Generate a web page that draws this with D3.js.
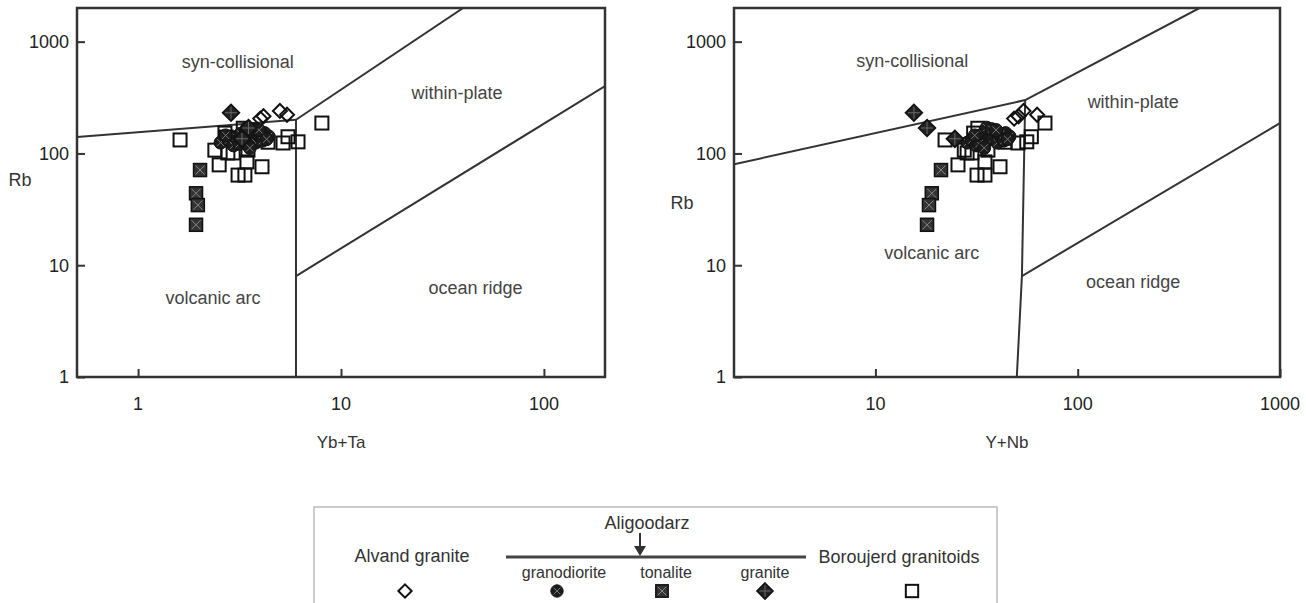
<!DOCTYPE html>
<html>
<head>
<meta charset="utf-8">
<script src="https://cdn.jsdelivr.net/npm/d3@7"></script>
<style>
  body { margin: 0; background: #fff; }
  svg { display: block; font-family: "Liberation Sans", Arial, sans-serif; }
</style>
</head>
<body>
<svg id="chart" width="1306" height="603"></svg>
<script>
// Each sample: [Yb+Ta, Y+Nb, Rb] (ppm)
const alvand = [
    [4.0, 48.5, 205], [4.15, 51, 215], [5.0, 54, 240], [5.42, 63, 222]
];
const granodiorite = [
    [2.55, 28.5, 125], [2.8, 30, 132], [2.95, 31.5, 118], [3.05, 33, 140],
    [3.2, 34, 150], [3.3, 35, 128], [3.4, 36, 160], [3.5, 37, 145],
    [3.6, 38, 135], [3.7, 39, 155], [3.8, 40, 125], [3.9, 41, 148],
    [4.05, 42, 138], [4.2, 44, 152], [4.4, 46, 142], [3.45, 35.5, 170],
    [3.75, 37.5, 165], [3.15, 32.5, 122], [4.1, 43, 130], [3.55, 34.5, 112],
    [2.7, 31, 145], [3.95, 39.5, 162], [4.3, 45, 134]
];
const tonalite = [
    [2.02, 21.1, 71], [1.93, 19.0, 44], [1.97, 18.4, 34.5], [1.93, 18.0, 23]
];
const granite = [
    [2.87, 15.5, 231], [3.5, 18.0, 169], [3.25, 24.7, 135]
];
const boroujerd = [
    [1.61, 22.1, 132], [2.68, 30.6, 152], [2.39, 27.5, 107], [2.51, 25.6, 79],
    [2.77, 28.4, 101], [3.11, 31.8, 64], [3.36, 34.8, 64], [3.44, 34.8, 84],
    [3.48, 36, 107], [4.08, 41.3, 76], [4.37, 43.7, 126], [5.18, 50.7, 124],
    [5.48, 59, 141], [6.14, 56, 127], [8.05, 68.9, 187], [2.72, 33, 140],
    [3.3, 32.1, 168], [2.94, 30, 101]
];

const yTicks = [1, 10, 100, 1000];
const xTicksYbTa = [1, 10, 100];
const xTicksYNb = [10, 100, 1000];

// field boundaries, [x, Rb]
const boundsYbTa = [
    [[0.5, 140], [6, 200]],
    [[6, 200], [40, 2000]],
    [[6, 1], [6, 200]],
    [[6, 8], [200, 400]]
];
const boundsYNb = [
    [[2, 80], [55, 300]],
    [[55, 300], [400, 2000]],
    [[55, 300], [53, 8], [50, 1]],
    [[53, 8], [1000, 187]]
];

const fieldsYbTa = [
    { name: 'syn-collisional', x: 3.1, y: 660 },
    { name: 'within-plate', x: 37.3, y: 347 },
    { name: 'volcanic arc', x: 2.34, y: 5.1 },
    { name: 'ocean ridge', x: 46, y: 6.3 }
];
const fieldsYNb = [
    { name: 'syn-collisional', x: 15.2, y: 670 },
    { name: 'within-plate', x: 188, y: 288 },
    { name: 'volcanic arc', x: 19, y: 12.9 },
    { name: 'ocean ridge', x: 188, y: 7.1 }
];

const svg = d3.select('#chart');
const INK = '#333';

// Marker drawing
function drawSymbol(g, type, s = 1) {
    if (type === 'alvand') {
        const r = 7 * s;
        g.append('path')
            .attr('d', `M0,${-r}L${r},0L0,${r}L${-r},0Z`)
            .attr('fill', 'none').attr('stroke', '#111').attr('stroke-width', 2);
    } else if (type === 'grd') {
        const r = 6.5 * s, c = 3.6 * s;
        g.append('circle').attr('r', r).attr('fill', '#1c1c1c').attr('stroke', '#111');
        g.append('path').attr('d', `M${-c},${-c}L${c},${c}M${c},${-c}L${-c},${c}`)
            .attr('stroke', '#777').attr('stroke-width', 1);
    } else if (type === 'ton') {
        const h = 6.5 * s, c = 4.5 * s;
        g.append('rect').attr('x', -h).attr('y', -h).attr('width', 2 * h).attr('height', 2 * h)
            .attr('fill', '#333').attr('stroke', '#111').attr('stroke-width', 1.5);
        g.append('path').attr('d', `M${-c},${-c}L${c},${c}M${c},${-c}L${-c},${c}`)
            .attr('stroke', '#888').attr('stroke-width', 1);
    } else if (type === 'gra') {
        const r = 8.5 * s, c = 4.2 * s;
        g.append('path').attr('d', `M0,${-r}L${r},0L0,${r}L${-r},0Z`)
            .attr('fill', '#222').attr('stroke', '#111').attr('stroke-width', 1.5);
        g.append('path').attr('d', `M${-c},${-c}L${c},${c}M${c},${-c}L${-c},${c}`)
            .attr('stroke', '#6a6a6a').attr('stroke-width', 1)
            .attr('transform', 'rotate(45)');
    } else if (type === 'bor') {
        const h = 6.5 * s;
        g.append('rect').attr('x', -h).attr('y', -h).attr('width', 2 * h).attr('height', 2 * h)
            .attr('fill', 'none').attr('stroke', '#111').attr('stroke-width', 2);
    }
}

const groups = [
    { type: 'bor', data: boroujerd },
    { type: 'alvand', data: alvand },
    { type: 'grd', data: granodiorite },
    { type: 'ton', data: tonalite },
    { type: 'gra', data: granite }
];

const panels = [
    { id: 'ybta', col: 0, xDomain: [0.5, 200], xRange: [77, 605], xTicks: xTicksYbTa,
      xTitle: 'Yb+Ta', bounds: boundsYbTa, fields: fieldsYbTa, rb: [20, 180] },
    { id: 'ynb', col: 1, xDomain: [2, 1000], xRange: [734, 1280], xTicks: xTicksYNb,
      xTitle: 'Y+Nb', bounds: boundsYNb, fields: fieldsYNb, rb: [682, 203] }
];

panels.forEach(p => {
    const x = d3.scaleLog().domain(p.xDomain).range(p.xRange);
    const y = d3.scaleLog().domain([1, 2000]).range([377, 8]);
    const [x0, x1] = p.xRange;
    const [yb, yt] = y.range();

    const g = svg.append('g').attr('class', 'panel-' + p.id);

    g.append('clipPath').attr('id', 'clip-' + p.id)
        .append('rect').attr('x', x0).attr('y', yt).attr('width', x1 - x0).attr('height', yb - yt);

    // field boundaries
    const line = d3.line().x(d => x(d[0])).y(d => y(d[1]));
    g.append('g').attr('clip-path', `url(#clip-${p.id})`)
        .selectAll('path')
        .data(p.bounds)
        .enter()
        .append('path')
        .attr('d', line)
        .attr('fill', 'none')
        .attr('stroke', INK)
        .attr('stroke-width', 2);

    // field names
    g.selectAll('.field')
        .data(p.fields)
        .enter()
        .append('text')
        .attr('class', 'field')
        .attr('x', d => x(d.x))
        .attr('y', d => y(d.y))
        .attr('dy', '0.35em')
        .attr('text-anchor', 'middle')
        .attr('font-size', '18px')
        .attr('fill', '#444')
        .text(d => d.name);

    // axes, ticks pointing inward
    const fmt = d => String(d);
    const yAxis = g.append('g').attr('transform', `translate(${x0},0)`)
        .call(d3.axisRight(y).tickValues(yTicks).tickSize(8).tickFormat(''));
    g.append('g').selectAll('text')
        .data(yTicks)
        .enter()
        .append('text')
        .attr('x', x0 - 8)
        .attr('y', d => y(d))
        .attr('dy', '0.35em')
        .attr('text-anchor', 'end')
        .attr('font-size', '18px')
        .attr('fill', '#222')
        .text(fmt);

    const xAxis = g.append('g').attr('transform', `translate(0,${yb})`)
        .call(d3.axisTop(x).tickValues(p.xTicks).tickSize(8).tickFormat(''));
    g.append('g').selectAll('text')
        .data(p.xTicks)
        .enter()
        .append('text')
        .attr('x', d => x(d))
        .attr('y', yb + 27)
        .attr('dy', '0.35em')
        .attr('text-anchor', 'middle')
        .attr('font-size', '18px')
        .attr('fill', '#222')
        .text(fmt);

    [yAxis, xAxis].forEach(a => {
        a.select('.domain').remove();
        a.selectAll('line').attr('stroke', INK).attr('stroke-width', 2);
    });

    // frame
    g.append('rect')
        .attr('x', x0).attr('y', yt)
        .attr('width', x1 - x0).attr('height', yb - yt)
        .attr('fill', 'none')
        .attr('stroke', INK)
        .attr('stroke-width', 2.5);

    // axis titles
    g.append('text')
        .attr('x', (x0 + x1) / 2)
        .attr('y', 442)
        .attr('dy', '0.35em')
        .attr('text-anchor', 'middle')
        .attr('font-size', '17px')
        .attr('fill', '#333')
        .text(p.xTitle);
    g.append('text')
        .attr('x', p.rb[0])
        .attr('y', p.rb[1])
        .attr('dy', '0.35em')
        .attr('text-anchor', 'middle')
        .attr('font-size', '18px')
        .attr('fill', '#333')
        .text('Rb');

    // samples
    const pts = g.append('g');
    groups.forEach(grp => {
        pts.selectAll('.pt-' + grp.type)
            .data(grp.data)
            .enter()
            .append('g')
            .attr('class', 'pt-' + grp.type)
            .attr('transform', d => `translate(${x(d[p.col])},${y(d[2])})`)
            .each(function () { drawSymbol(d3.select(this), grp.type); });
    });
});

// Legend
const lg = svg.append('g').attr('class', 'legend');
lg.append('rect')
    .attr('x', 314).attr('y', 507)
    .attr('width', 683).attr('height', 130)
    .attr('fill', 'none')
    .attr('stroke', '#bbb')
    .attr('stroke-width', 1.5);

const legendText = (t, x, y, size) => lg.append('text')
    .attr('x', x).attr('y', y).attr('dy', '0.35em')
    .attr('text-anchor', 'middle')
    .attr('font-size', size)
    .attr('fill', '#333')
    .text(t);

legendText('Aligoodarz', 647, 523, '18px');
legendText('Alvand granite', 412, 556, '18px');
legendText('Boroujerd granitoids', 899, 557, '18px');
legendText('granodiorite', 564, 572, '16px');
legendText('tonalite', 666, 572, '16px');
legendText('granite', 765, 572, '16px');

lg.append('line')
    .attr('x1', 506).attr('x2', 806)
    .attr('y1', 557).attr('y2', 557)
    .attr('stroke', '#444').attr('stroke-width', 3);
lg.append('line')
    .attr('x1', 640).attr('x2', 640)
    .attr('y1', 533).attr('y2', 548)
    .attr('stroke', '#333').attr('stroke-width', 2);
lg.append('path')
    .attr('d', 'M634,546L646,546L640,556Z')
    .attr('fill', '#333');

[['alvand', 405], ['grd', 557], ['ton', 662], ['gra', 765], ['bor', 912]].forEach(([t, lx]) => {
    drawSymbol(lg.append('g').attr('transform', `translate(${lx},591)`), t, 0.95);
});
</script>
</body>
</html>
